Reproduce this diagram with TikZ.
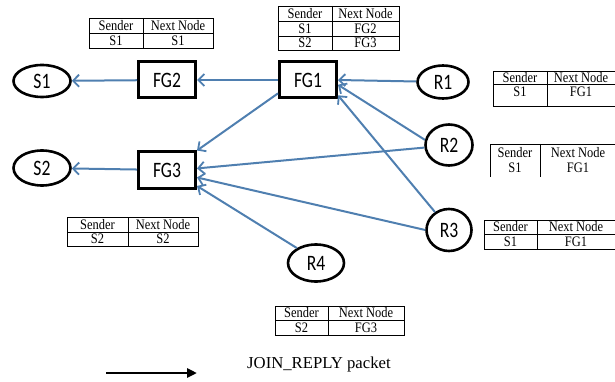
\documentclass[tikz,border=0pt]{standalone}
\usepackage{fontspec}
\usepackage{tikz}
\usetikzlibrary{arrows.meta}
\usetikzlibrary{positioning}
\usetikzlibrary{shapes}
\newfontfamily\lblfont[FakeStretch=0.8]{Carlito}
\newfontfamily\tabfont[FakeStretch=0.86]{Liberation Serif}
\newfontfamily\legfont{Liberation Serif}
\definecolor{linkBlue}{HTML}{4F7FB0}

\tikzset{
  ell/.style={ellipse, draw, line width=2.6pt, inner sep=0pt,
    font=\lblfont\fontsize{22}{22}\selectfont},
  fgbox/.style={rectangle, draw, line width=3pt, inner sep=0pt,
    minimum width=57pt, minimum height=36pt,
    font=\lblfont\fontsize{22}{22}\selectfont},
  link/.style={draw=linkBlue, line width=2pt,
    -{Straight Barb[length=6pt,width=12pt,line width=1.8pt]}},
  cell/.style={inner sep=0pt, font=\tabfont\fontsize{14.5}{14.5}\selectfont},
  tab/.style={line width=0.9pt}
}

\begin{document}
\begin{tikzpicture}[x=1pt,y=-1pt]
  \useasboundingbox (0,0) rectangle (615,382);

  %% nodes
  \node[ell, minimum width=57pt, minimum height=32pt] (s1) at (42,81) {S1};
  \node[ell, minimum width=57pt, minimum height=35pt] (s2) at (42,168) {S2};
  \node[fgbox] (fg2) at (167,80) {FG2};
  \node[fgbox] (fg3) at (167,170) {FG3};
  \node[fgbox] (fg1) at (308,80) {FG1};
  \node[ell, minimum width=51pt, minimum height=33pt] (r1) at (443,82) {R1};
  \node[ell, minimum width=47pt, minimum height=41pt] (r2) at (449,145) {R2};
  \node[ell, minimum width=45pt, minimum height=42pt] (r3) at (449,230) {R3};
  \node[ell, minimum width=56pt, minimum height=37pt] (r4) at (316,263) {R4};

  %% join reply paths
  \draw[link] (fg2) -- (s1);
  \draw[link] (fg1) -- (fg2);
  \draw[link] (fg3) -- (s2);
  \draw[link] (r1) -- (fg1.east);
  \draw[link] (r2.168) -- (fg1.-9);
  \draw[link] (r3.128) -- (fg1.-27);
  \draw[link] (fg1.204) -- (fg3.north east);
  \draw[link] (r2.186) -- (fg3.3);
  \draw[link] (r3.west) -- (fg3.-14);
  \draw[link] (r4.142) -- (fg3.-28);

  %% routing tables
  % FG2
  \draw[tab] (89,18) rectangle (213,48);
  \draw[tab] (143,18) -- (143,48) (89,33) -- (213,33);
  \node[cell] (tfg2a) at (116,25.5) {Sender};
  \node[cell] (tfg2b) at (178,25.5) {Next Node};
  \node[cell] (tfg2c) at (116,40.5) {S1};
  \node[cell] (tfg2d) at (178,40.5) {S1};

  % FG1
  \draw[tab] (278,6) rectangle (399,50);
  \draw[tab] (332,6) -- (332,50) (278,21) -- (399,21) (278,36) -- (399,36);
  \node[cell] (tfg1a) at (305,13.5) {Sender};
  \node[cell] (tfg1b) at (365.5,13.5) {Next Node};
  \node[cell] (tfg1c) at (305,28.5) {S1};
  \node[cell] (tfg1d) at (365.5,28.5) {FG2};
  \node[cell] (tfg1e) at (305,43) {S2};
  \node[cell] (tfg1f) at (365.5,43) {FG3};

  % R1
  \draw[tab] (493,71) rectangle (616,106);
  \draw[tab] (547,71) -- (547,106) (493,84) -- (616,84);
  \node[cell] (tr1a) at (520,77.5) {Sender};
  \node[cell] (tr1b) at (581,77.5) {Next Node};
  \node[cell] (tr1c) at (520,92) {S1};
  \node[cell] (tr1d) at (581,92) {FG1};

  % R2
  \draw[tab] (490,177) -- (490,144) -- (616,144);
  \draw[tab] (540,144) -- (540,177);
  \node[cell] (tr2a) at (515,152.5) {Sender};
  \node[cell] (tr2b) at (578,152.5) {Next Node};
  \node[cell] (tr2c) at (515,168) {S1};
  \node[cell] (tr2d) at (578,168) {FG1};

  % R3
  \draw[tab] (484,220) rectangle (616,249);
  \draw[tab] (537,220) -- (537,249) (484,234) -- (616,234);
  \node[cell] (tr3a) at (510.5,227) {Sender};
  \node[cell] (tr3b) at (576,227) {Next Node};
  \node[cell] (tr3c) at (510.5,241.5) {S1};
  \node[cell] (tr3d) at (576,241.5) {FG1};

  % R4
  \draw[tab] (275,306) rectangle (404,335);
  \draw[tab] (328,306) -- (328,335) (275,320) -- (404,320);
  \node[cell] (tr4a) at (301.5,313) {Sender};
  \node[cell] (tr4b) at (366,313) {Next Node};
  \node[cell] (tr4c) at (301.5,327.5) {S2};
  \node[cell] (tr4d) at (366,327.5) {FG3};

  % FG3
  \draw[tab] (67,217) rectangle (198,246);
  \draw[tab] (128,217) -- (128,246) (67,232) -- (198,232);
  \node[cell] (tfg3a) at (97.5,224.5) {Sender};
  \node[cell] (tfg3b) at (163,224.5) {Next Node};
  \node[cell] (tfg3c) at (97.5,239) {S2};
  \node[cell] (tfg3d) at (163,239) {S2};

  %% legend
  \coordinate (legA) at (106,373);
  \coordinate (legB) at (197,373);
  \draw[line width=2.6pt, -{Triangle[length=10pt,width=9pt]}] (legA) -- (legB);
  \node[anchor=west, inner sep=0pt, font=\legfont\fontsize{16.7}{16.7}\selectfont]
    (legtxt) at (247,364) {JOIN\_REPLY packet};
\end{tikzpicture}
\end{document}
